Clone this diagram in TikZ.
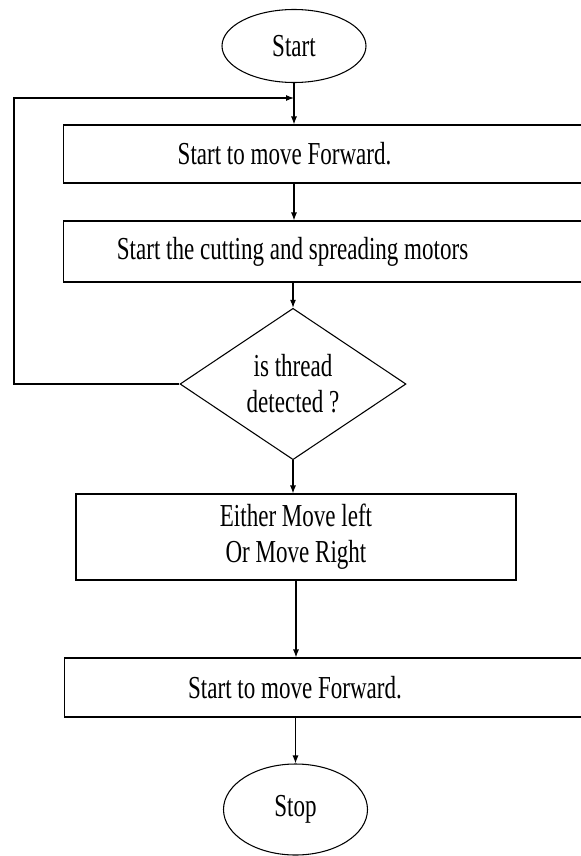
\documentclass[tikz,border=0pt]{standalone}
\usepackage{fontspec}
\setmainfont{Liberation Serif}[FakeStretch=0.72]
\usetikzlibrary{arrows.meta,shapes.geometric}

\begin{document}
\begin{tikzpicture}[
  x=0.75pt, y=-0.75pt,
  font=\fontsize{24}{27}\selectfont,
  line width=0.8pt,
  term/.style={ellipse, draw, inner sep=0pt, minimum width=108pt},
  wide/.style={rectangle, draw, anchor=west, minimum width=402.75pt},
  block/.style={rectangle, draw, align=center, minimum width=330pt, minimum height=64.5pt},
  decision/.style={diamond, draw, align=center, inner sep=0pt,
    minimum width=169.5pt, minimum height=108.75pt},
  arr/.style={-{Latex[length=6pt,width=4.5pt]}}
]
\path[use as bounding box, clip] (0,0) rectangle (581,856);

% Top
\node[term, minimum height=54.75pt] (start) at (294,46) {Start};
\coordinate (loopjoin) at (294,98);
\coordinate (loopleft) at (14,98);

% Forward and motors
\node[wide, minimum height=43.5pt,
  label={[xshift=-35.6pt]center:Start to move Forward.}] (fwd1) at (63,154) {};
\node[wide, minimum height=45.75pt,
  label={[xshift=-29.6pt]center:Start the cutting and spreading motors}] (motors) at (63,251.5) {};

% Decision
\node[decision] (check) at (293,384) {is thread\\detected ?};

% Turn and go on
\node[block] (turn) at (296,537) {Either Move left\\Or Move Right};
\node[wide, minimum height=44.25pt,
  label={[xshift=-28.5pt]center:Start to move Forward.}] (fwd2) at (64,687.5) {};
\node[term, minimum height=68.25pt] (stop) at (295.5,809.5) {Stop};

\draw[arr] (start.south) -- (start.south |- fwd1.north);
\draw[arr] (start.south |- fwd1.south) -- (start.south |- motors.north);
\draw[arr] (check.north |- motors.south) -- (check.north);
\draw[arr] (check.west) -| (loopleft) -- (loopjoin);
\draw[arr] (check.south) -- (check.south |- turn.north);
\draw[arr] (turn.south) -- (turn.south |- fwd2.north);
\draw[arr] (stop.north |- fwd2.south) -- (stop.north);

\end{tikzpicture}
\end{document}
